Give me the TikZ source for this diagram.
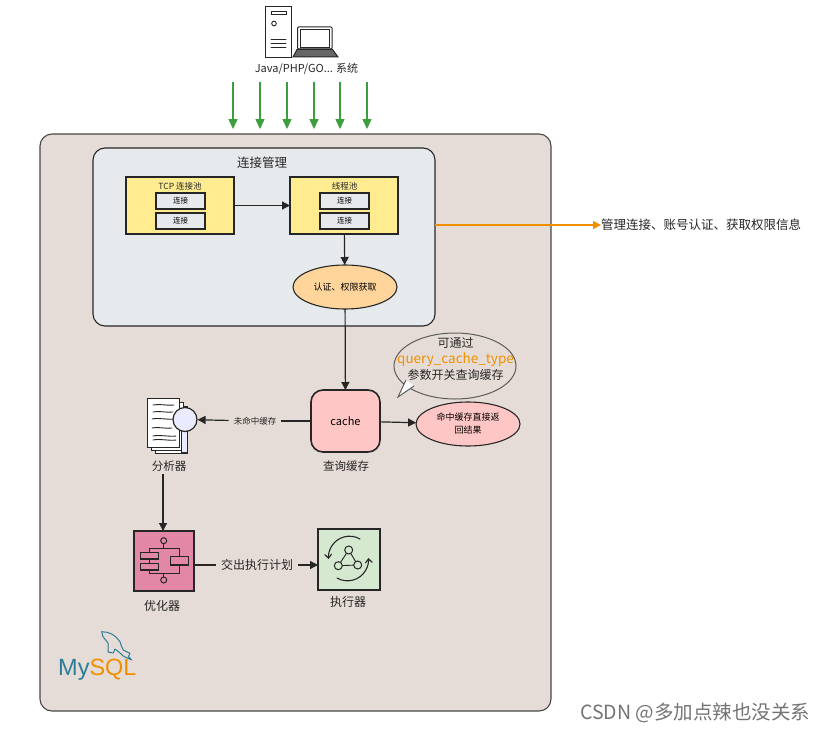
\documentclass[tikz,border=0pt]{standalone}
\usepackage{fontspec}
\setmainfont{Noto Sans CJK SC}
\newfontfamily\logofont{Liberation Sans}
\usetikzlibrary{arrows.meta,shapes.geometric,calc}
\definecolor{ink}{HTML}{262626}
\definecolor{bgmain}{HTML}{E6DCD7}
\definecolor{panelc}{HTML}{E7EAED}
\definecolor{yellowc}{HTML}{FFEC91}
\definecolor{peachc}{HTML}{FFD59B}
\definecolor{pinkc}{HTML}{FFC6C6}
\definecolor{rosec}{HTML}{E387A7}
\definecolor{greenc}{HTML}{D5E8D0}
\definecolor{orangec}{HTML}{F09000}
\definecolor{greenar}{HTML}{3C9E3C}
\definecolor{teal}{HTML}{2B7C98}
\tikzset{
  box/.style={draw=ink,line width=1.1pt,inner sep=0pt,outer sep=0pt},
  pool/.style={box,fill=yellowc,minimum width=108pt,minimum height=57pt},
  conn/.style={box,fill=panelc,minimum width=49pt,minimum height=16pt,font=\fontsize{7.5}{8}\selectfont},
  oval/.style={box,ellipse,minimum width=104pt,minimum height=44pt,align=center},
  lab/.style={inner sep=0pt,text=ink,align=center},
  flow/.style={draw=ink,line width=1.2pt,-{Triangle[length=8pt,width=8pt]}},
  greenflow/.style={draw=greenar,line width=1.6pt,-{Triangle[length=10pt,width=9pt]}},
  orangeflow/.style={draw=orangec,line width=1.6pt,-{Triangle[length=8pt,width=8pt]}},
  icon/.style={draw=ink,line width=1pt},
  iconlight/.style={draw=ink,line width=.9pt,line cap=round}
}
\begin{document}
\begin{tikzpicture}[x=1pt,y=-1pt]
\useasboundingbox (0,0) rectangle (826,733);

% client icons
\draw[icon,fill=white] (265.5,6.5) rectangle (291,58);
\draw[iconlight] (271,11.5) rectangle (286,14.5);
\draw[iconlight] (274,23.5) circle (2.3);
\foreach \yy in {39,43,47}{\draw[iconlight] (271,\yy) -- (286,\yy);}
\draw[icon,fill=white,rounded corners=1pt] (297.5,27) rectangle (332,49);
\draw[iconlight] (300,29.5) rectangle (329.5,47);
\draw[icon,fill=ink!70] (297,49.5) -- (332.5,49.5) -- (338,57) -- (293,57) -- cycle;
\node[lab,font=\fontsize{11}{13}\selectfont] (clients) at (306.5,69) {Java/PHP/GO... 系统};

% green arrows
\foreach \n/\xx in {a/233,b/260,c/287,d/314,e/340,f/367}{
  \coordinate (\n s) at (\xx,82);
  \coordinate (\n e) at (\xx,129);
  \draw[greenflow] (\n s) -- (\n e);
}

% main containers
\node[box,draw=ink!85,fill=bgmain,rounded corners=12pt,minimum width=511pt,minimum height=577pt] (mysql) at (295.5,422.5) {};
\node[box,fill=panelc,rounded corners=12pt,minimum width=342pt,minimum height=178pt] (panel) at (264,237) {};
\node[lab,font=\fontsize{12.5}{14}\selectfont] (paneltitle) at (262,163) {连接管理};

% pools
\node[pool] (tcp) at (180,205.5) {};
\node[pool] (thread) at (344,205.5) {};
\node[lab,font=\fontsize{8.5}{10}\selectfont] (tcpt) at (180,186) {TCP 连接池};
\node[lab,font=\fontsize{8.5}{10}\selectfont] (thrt) at (344.5,186) {线程池};
\node[conn] (c1) at (180.5,201) {连接};
\node[conn] (c2) at (180.5,221) {连接};
\node[conn] (c3) at (344.5,201) {连接};
\node[conn] (c4) at (344.5,221) {连接};
\node[oval,fill=peachc,font=\fontsize{9}{11}\selectfont] (auth) at (345,287) {认证、权限获取};
\draw[flow] (tcp) -- (thread);
\draw[flow] (thread) -- (auth);

% note on the right
\node[lab,anchor=west,font=\fontsize{12.5}{14}\selectfont] (note) at (601,225) {管理连接、账号认证、获取权限信息};
\draw[orangeflow] (panel.east |- note) -- (note);

% cache
\node[box,line width=1.6pt,fill=pinkc,rounded corners=12pt,minimum width=69pt,minimum height=62pt,font=\itshape\fontsize{11}{12}\selectfont] (cache) at (345.5,421) {cache};
\node[lab,font=\fontsize{11.5}{13}\selectfont] (cachet) at (346,466) {查询缓存};
\node[oval,fill=pinkc,font=\fontsize{9}{13}\selectfont] (hit) at (468,424) {命中缓存直接返\\回结果};
\draw[flow] (auth) -- (cache);
\draw[flow] (cache) -- (hit);

% callout
\node[draw=ink!75,line width=1pt,ellipse,fill=bgmain,minimum width=122pt,minimum height=66pt,inner sep=0pt] (bubble) at (455,366) {};
\filldraw[draw=ink!75,fill=white,line width=1pt] (406,380) -- (398,397) -- (414,386);
\node[lab,font=\fontsize{12}{16}\selectfont] (bubblet) at (455.5,358.5) {可通过\\[0pt]{\fontsize{13.5}{16}\selectfont\color{orangec}query\_cache\_type}\\[0pt]参数开关查询缓存};

% analyser
\draw[icon,fill=white] (155,406) rectangle (187,453);
\draw[icon,fill=white] (151,402) rectangle (183,450);
\draw[icon,fill=white] (147,398) rectangle (179,447);
\foreach \yy/\xa/\xb in {405/153/174,412/153/173,419/152/175,428/152/172,436/153/176,440/153/176}{
  \draw[iconlight] (\xa,\yy) .. controls (\xa+6,\yy-1.5) and (\xb-6,\yy+1) .. (\xb,\yy);
}
\draw[icon,fill=blue!8] (181.5,429) rectangle (187,452);
\node[draw=ink,line width=1.2pt,circle,fill=blue!8,minimum size=24pt,inner sep=0pt] (lens) at (185,419.5) {};
\node[lab,inner xsep=5pt,font=\fontsize{8.5}{10}\selectfont] (miss) at (255,421) {未命中缓存};
\node[lab,font=\fontsize{11.5}{13}\selectfont] (ant) at (169,466) {分析器};
\draw[draw=ink,line width=1.2pt] (cache.west |- miss) -- (miss);
\draw[flow] (miss) -- (lens);

% optimiser
\node[box,fill=rosec,minimum width=60pt,minimum height=60pt] (opt) at (164,561) {};
\coordinate (antf) at (163,474);
\draw[flow] (antf) -- (antf |- opt.north);
\draw[iconlight,line width=1.1pt] (149.3,552.7) -- (149.3,548.3) -- (179.3,548.3) -- (179.3,556.7)
  (149.3,570) -- (149.3,573.3) -- (179.3,573.3) -- (179.3,565)
  (149.3,559) -- (149.3,563.7) (163.7,543.7) -- (163.7,548.3) (163.7,573.3) -- (163.7,577);
\draw[icon] (163.7,540.7) circle (3);
\draw[icon] (163.7,580) circle (3);
\draw[icon,line width=1.1pt] (140.7,552.7) rectangle (158.7,559);
\draw[icon,line width=1.1pt] (140.7,563.7) rectangle (158.7,570);
\draw[icon,line width=1.1pt] (170.7,556.7) rectangle (188.7,565);
\node[lab,font=\fontsize{12}{14}\selectfont] (optt) at (162,606) {优化器};

% executor
\node[box,fill=greenc,minimum width=62pt,minimum height=61pt] (exec) at (349,559.5) {};
\node[lab,font=\fontsize{12}{14}\selectfont] (exect) at (348,602) {执行器};
\node[lab,inner xsep=5pt,font=\fontsize{12}{14}\selectfont] (plan) at (257,565) {交出执行计划};
\draw[draw=ink,line width=1.2pt] (opt.east |- plan) -- (plan);
\draw[flow] (plan) -- (exec.west |- plan);
\draw[iconlight] (348.7,550) -- (338.3,565.7) -- (357.7,565) -- cycle;
\foreach \xx/\yy in {348.7/550,338.3/565.7,357.7/565}{\draw[icon,fill=greenc] (\xx,\yy) circle (4);}
\draw[iconlight,line width=1.1pt,-{Straight Barb[length=4pt,width=7pt]}] (360,539) arc[start angle=-60,end angle=-185,radius=21];
\draw[iconlight,line width=1.1pt,-{Straight Barb[length=4pt,width=7pt]}] (337,578) arc[start angle=120,end angle=-5,radius=21];

% MySQL logo
\node[inner sep=0pt,anchor=base west,font=\logofont\fontsize{23.5}{26}\selectfont] (logo) at (58,675) {\textcolor{teal}{My}\textcolor{orangec}{SQL}};
\draw[teal,line width=1pt,line join=round]
  (101.7,631.7) .. controls (105,631.5) and (108,632.5) .. (111.7,634)
  .. controls (115,636) and (118,638.5) .. (120,641.7)
  .. controls (121,645) and (122,648) .. (123.3,650)
  -- (130,653.3) -- (128.5,656.5) -- (131.7,660) -- (123.3,656)
  .. controls (120,653) and (118,651) .. (115,649)
  -- (113.3,653) -- (108,652) -- (108,643) -- (103,636.7) -- cycle;

% watermark
\node[anchor=west,inner sep=0pt,text=black!55,font=\fontsize{19.5}{22}\selectfont] (mark) at (580,713) {CSDN @多加点辣也没关系};
\end{tikzpicture}
\end{document}
